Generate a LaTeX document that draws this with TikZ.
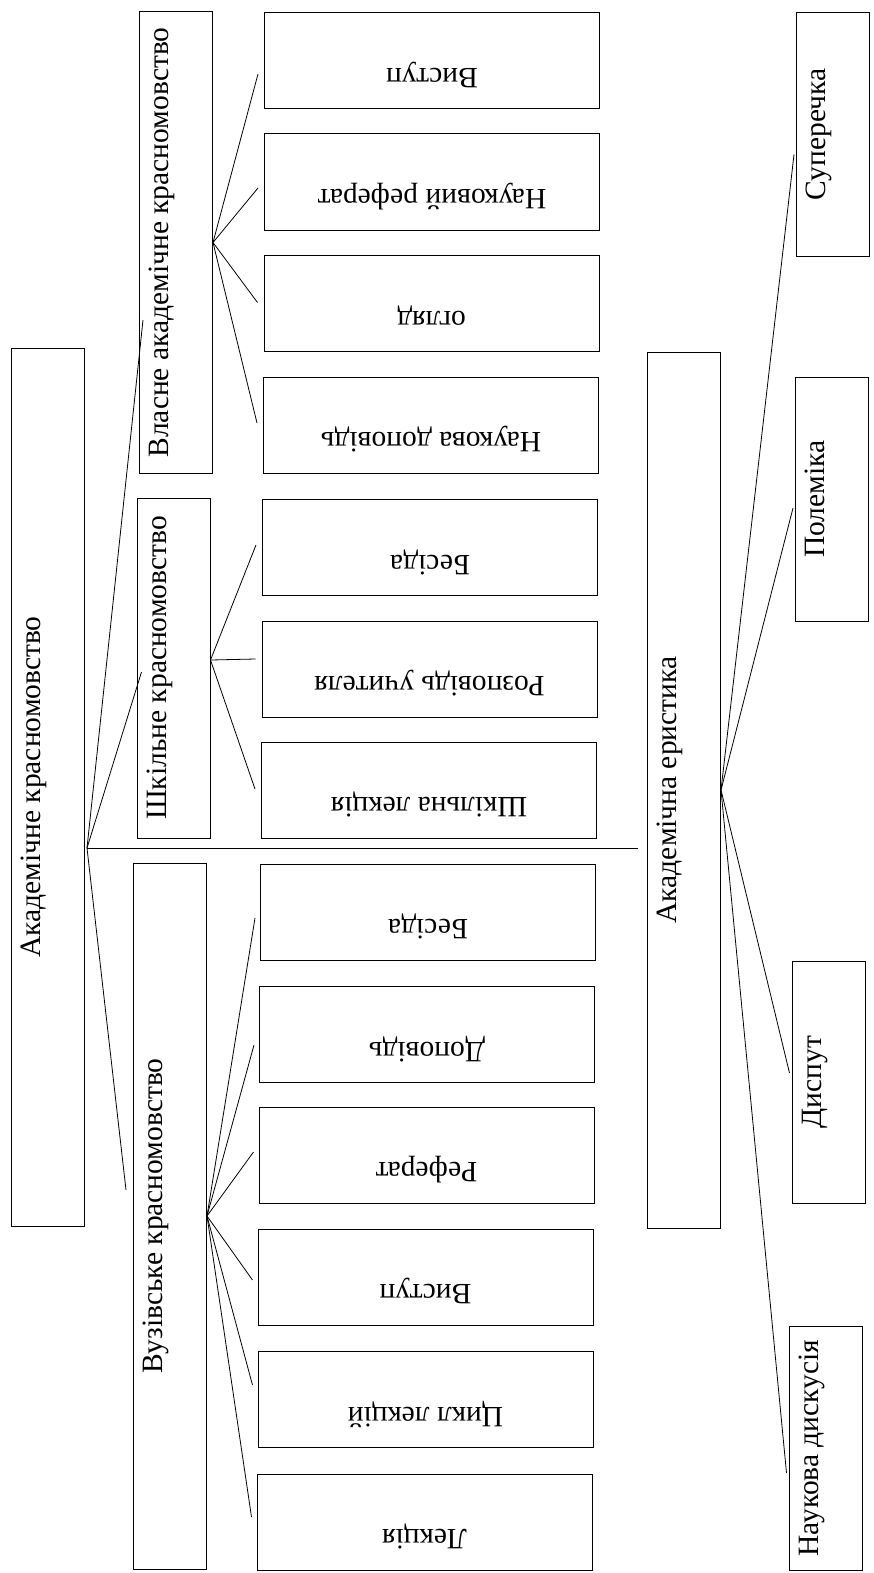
\documentclass[tikz,border=0pt]{standalone}
\usepackage{fontspec}
\setmainfont{Liberation Serif}
\usetikzlibrary{calc}
\begin{document}
\begin{tikzpicture}[x=1pt, y=-1pt, line width=0.8pt,
  box/.style={draw, line width=1pt, inner sep=2pt, text height=10pt, text depth=25pt,
    font=\fontsize{29.5}{32}\selectfont},
  upbox/.style={box, rotate=90, minimum height=73pt},
  leafbox/.style={box, rotate=180, minimum width=335pt, minimum height=96pt}]

\useasboundingbox (0,0) rectangle (873,1573);

% upbox: south = right side, north = left side; leafbox: east = left side
\node[upbox, minimum width=878pt] (A) at (48,787) {Академічне красномовство};
\node[upbox, minimum width=461pt] (B) at (176,242.5) {Власне академічне красномовство};
\node[upbox, minimum width=340pt] (S) at (173.5,668) {Шкільне красномовство};
\node[upbox, minimum width=706pt] (U) at (170,1216) {Вузівське красномовство};
\node[upbox, minimum width=876pt] (E) at (684,790) {Академічна еристика};

\foreach \n/\xc/\yc/\t in {V1/432/61/Виступ, V2/432/182/Науковий реферат,
  V3/431.5/303.5/огляд, V4/431/425/Наукова доповідь}
  \node[leafbox] (\n) at (\xc,\yc) {\t};
\foreach \n/\xc/\yc/\t in {S1/430/547.5/Бесіда, S2/429.5/669/Розповідь учителя,
  S3/429/790/Шкільна лекція}
  \node[leafbox] (\n) at (\xc,\yc) {\t};
\foreach \n/\xc/\yc/\t in {U1/428/912/Бесіда, U2/427/1034.5/Доповідь,
  U3/426.5/1155/Реферат, U4/425.5/1277/Виступ, U5/425.5/1399.5/Цикл лекцій,
  U6/424.5/1522/Лекція}
  \node[leafbox] (\n) at (\xc,\yc) {\t};

\node[upbox, minimum width=243pt] (R1) at (833,134.5) {Суперечка};
\node[upbox, minimum width=244pt] (R2) at (832,499) {Полеміка};
\node[upbox, minimum width=242pt] (R3) at (828.5,1082) {Диспут};
\node[upbox, minimum width=244pt] (R4) at (825.5,1448) {Наукова дискусія};

% hubs
\coordinate (hA) at ($(A.south)+(2,61)$);
\coordinate (hS) at ($(S.south)+(0,-8)$);

\draw (hA) -- ($(B.north)+(4,77.5)$);
\draw (hA) -- ($(S.north)+(5,4)$);
\draw (hA) -- ($(U.north)+(-7,-26)$);
\draw (hA) -- ($(E.north)+(-9,58)$);

\foreach \n/\dy in {V1/13, V2/6, V3/-1, V4/-2}
  \draw (B.south) -- ($(\n.east)+(-6,\dy)$);
\foreach \n/\dy in {S1/-2.5, S2/-10, S3/-1}
  \draw (hS) -- ($(\n.east)+(-6,\dy)$);
\foreach \n/\dy in {U1/6, U2/10.5, U3/-3, U4/3, U5/-14.5, U6/-5}
  \draw (U.south) -- ($(\n.east)+(-5,\dy)$);

\foreach \n/\dy in {R1/20, R2/9, R3/-9, R4/25}
  \draw (E.south) -- ($(\n.north)+(-2,\dy)$);

\end{tikzpicture}
\end{document}
